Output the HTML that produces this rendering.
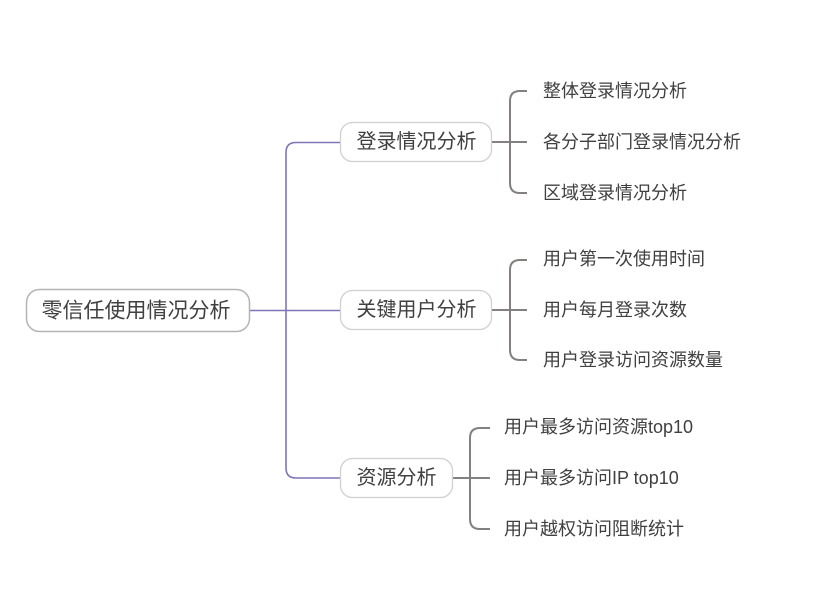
<!DOCTYPE html>
<html><head><meta charset="utf-8"><style>
html,body{margin:0;padding:0;background:#fff;}
svg{display:block;}
text{font-family:"Liberation Sans","Noto Sans CJK SC",sans-serif;fill:#404040;}
</style></head><body>
<svg width="832" height="607" viewBox="0 0 832 607" xmlns="http://www.w3.org/2000/svg">
<!-- purple connectors -->
<g fill="none" stroke="#7f74b8" stroke-width="1.6">
<path d="M250 310.5 H340"/>
<path d="M340 142.5 H296 Q286 142.5 286 152.5 V468 Q286 478 296 478 H340"/>
</g>
<!-- gray connectors -->
<g fill="none" stroke="#858080" stroke-width="2">
<path d="M492 142 H527"/>
<path d="M527 91 H520 Q510 91 510 101 V183 Q510 193 520 193 H527"/>
<path d="M492 310 H527"/>
<path d="M527 260 H520 Q510 260 510 270 V350 Q510 360 520 360 H527"/>
<path d="M453 478 H490"/>
<path d="M490 428 H480 Q470 428 470 438 V519 Q470 529 480 529 H490"/>
</g>
<!-- root -->
<rect x="26.5" y="289.5" width="223" height="42" rx="13" fill="#fff" stroke="#b5b3b3" stroke-width="1.5"/>
<text x="41.5" y="311" font-size="21" dominant-baseline="central">零信任使用情况分析</text>
<!-- level 1 -->
<rect x="340.5" y="122.5" width="151" height="39" rx="12" fill="#fff" stroke="#d2d0d0" stroke-width="1.3"/>
<text x="356.5" y="142" font-size="20" dominant-baseline="central">登录情况分析</text>
<rect x="340.5" y="290.5" width="151" height="39" rx="12" fill="#fff" stroke="#d2d0d0" stroke-width="1.3"/>
<text x="356.5" y="310" font-size="20" dominant-baseline="central">关键用户分析</text>
<rect x="340.5" y="458.5" width="112" height="39" rx="12" fill="#fff" stroke="#d2d0d0" stroke-width="1.3"/>
<text x="356.5" y="478" font-size="20" dominant-baseline="central">资源分析</text>
<!-- children -->
<g font-size="18">
<text x="543" y="91" dominant-baseline="central">整体登录情况分析</text>
<text x="543" y="142" dominant-baseline="central">各分子部门登录情况分析</text>
<text x="543" y="193" dominant-baseline="central">区域登录情况分析</text>
<text x="543" y="259" dominant-baseline="central">用户第一次使用时间</text>
<text x="543" y="310" dominant-baseline="central">用户每月登录次数</text>
<text x="543" y="360" dominant-baseline="central">用户登录访问资源数量</text>
<text x="504" y="427" dominant-baseline="central">用户最多访问资源top10</text>
<text x="504" y="478" dominant-baseline="central">用户最多访问IP top10</text>
<text x="504" y="529" dominant-baseline="central">用户越权访问阻断统计</text>
</g>
</svg>
</body></html>
